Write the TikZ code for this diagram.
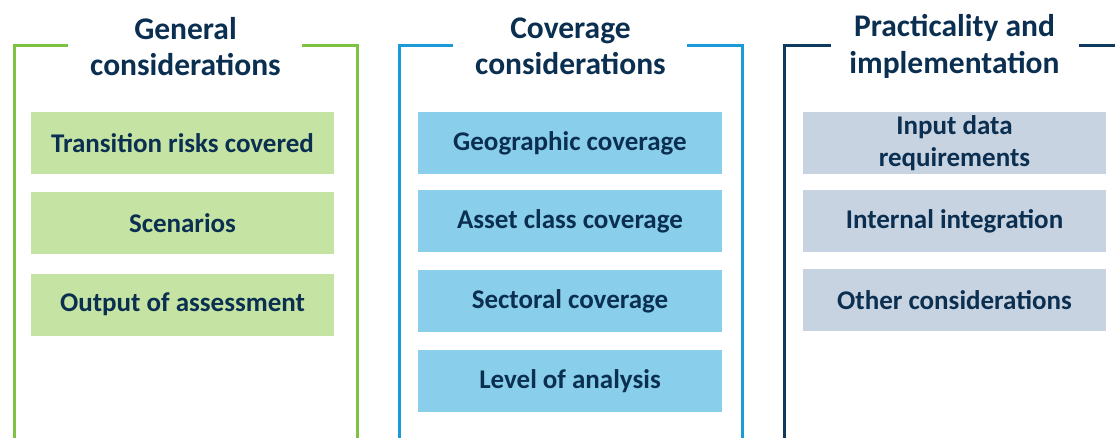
\documentclass[tikz,border=0pt]{standalone}
\usepackage{fontspec}
\setmainfont{Carlito}
\definecolor{txt}{HTML}{0B2F50}
\definecolor{gline}{HTML}{7DC242}
\definecolor{gbox}{HTML}{C5E3A3}
\definecolor{bline}{HTML}{1A9AD7}
\definecolor{bbox}{HTML}{89CFEC}
\definecolor{nline}{HTML}{0E3A5E}
\definecolor{nbox}{HTML}{C8D3E1}
\tikzset{
  frame/.style={line width=3pt},
  title/.style={font=\fontsize{31.5}{36.5}\selectfont\bfseries, text=txt, align=center, inner sep=0pt},
  item/.style={minimum width=303pt, minimum height=62pt, inner sep=0pt, font=\fontsize{27}{32.5}\selectfont\bfseries, text=txt, align=center},
}
\begin{document}
\begin{tikzpicture}[x=1pt,y=-1pt]
\useasboundingbox (0,0) rectangle (1115,438);
% frames
\coordinate (a1) at (68,46); \coordinate (a2) at (14,46); \coordinate (a3) at (14,440);
\coordinate (a4) at (302,46); \coordinate (a5) at (357,46); \coordinate (a6) at (357,440);
\draw[frame, gline] (a1) -- (a2) -- (a3);
\draw[frame, gline] (a4) -- (a5) -- (a6);
\coordinate (b1) at (453,46); \coordinate (b2) at (399,46); \coordinate (b3) at (399,440);
\coordinate (b4) at (687,46); \coordinate (b5) at (742,46); \coordinate (b6) at (742,440);
\draw[frame, bline] (b1) -- (b2) -- (b3);
\draw[frame, bline] (b4) -- (b5) -- (b6);
\coordinate (c1) at (831,46); \coordinate (c2) at (784,46); \coordinate (c3) at (784,440);
\coordinate (c4) at (1079,46); \coordinate (c5) at (1117,46);
\draw[frame, nline] (c1) -- (c2) -- (c3);
\draw[frame, nline] (c4) -- (c5);
% titles
\node[title] (t1) at (185.5,46.5) {General\\considerations};
\node[title] (t2) at (570.5,46.5) {Coverage\\considerations};
\node[title] (t3) at (954.5,46.5) {Practicality and\\implementation};
% column 1
\node[item, fill=gbox] (g1) at (182.5,143) {\raisebox{-1.5pt}{Transition risks covered}};
\node[item, fill=gbox] (g2) at (182.5,223) {\raisebox{-1.5pt}{Scenarios}};
\node[item, fill=gbox] (g3) at (182.5,304.5) {\raisebox{-1.5pt}{Output of assessment}};
% column 2
\node[item, fill=bbox, minimum width=304pt] (k1) at (570,143) {\raisebox{-1.5pt}{Geographic coverage}};
\node[item, fill=bbox, minimum width=304pt] (k2) at (570,221) {\raisebox{-1.5pt}{Asset class coverage}};
\node[item, fill=bbox, minimum width=304pt] (k3) at (570,301) {\raisebox{-1.5pt}{Sectoral coverage}};
\node[item, fill=bbox, minimum width=304pt] (k4) at (570,381) {\raisebox{-1.5pt}{Level of analysis}};
% column 3
\node[item, fill=nbox] (p1) at (954.5,143) {\raisebox{-1.5pt}{Input data}\\\raisebox{-1.5pt}{requirements}};
\node[item, fill=nbox] (p2) at (954.5,221) {\raisebox{-1.5pt}{Internal integration}};
\node[item, fill=nbox] (p3) at (954.5,300) {\raisebox{-1.5pt}{Other considerations}};
\end{tikzpicture}
\end{document}
